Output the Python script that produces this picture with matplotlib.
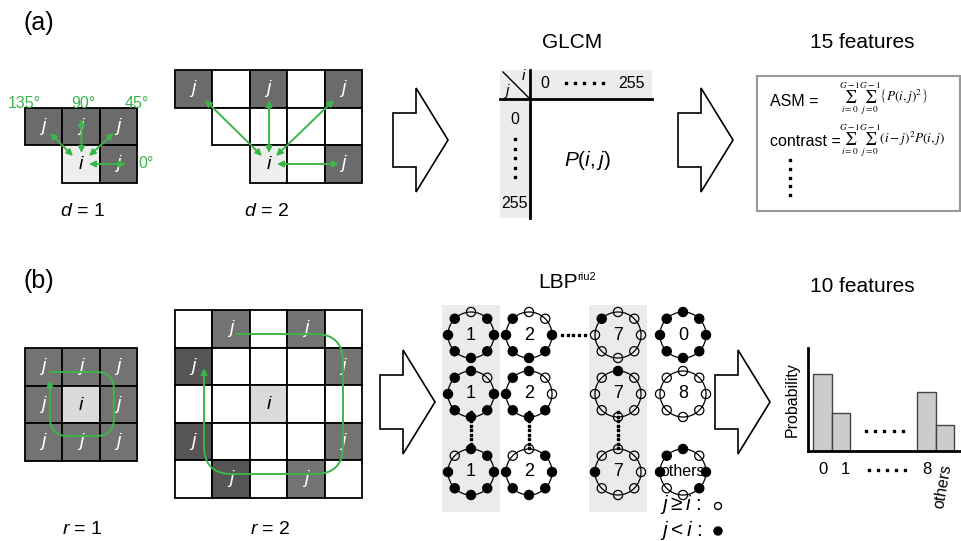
import numpy as np
import matplotlib
matplotlib.use('Agg')
import matplotlib.pyplot as plt
from matplotlib.patches import Rectangle, Polygon, Circle

plt.rcParams['font.family'] = ['Liberation Sans', 'DejaVu Sans']
plt.rcParams['mathtext.fontset'] = 'custom'
plt.rcParams['mathtext.rm'] = 'Liberation Sans'
plt.rcParams['mathtext.it'] = 'Liberation Sans:italic'

# ---------------- DATA ----------------
panel_labels = ['(a)', '(b)']
titles = ['GLCM', '15 features', '10 features']
angle_labels = ['135°', '90°', '45°', '0°']
distance_labels = ['$d$ = 1', '$d$ = 2']
radius_labels = ['$r$ = 1', '$r$ = 2']
glcm_labels = ['0', '255']
glcm_cell = '$P(i,j)$'
feature_names = ['ASM =', 'contrast =']
feature_formulas = [r'$\sum_{i=0}^{G-1}\sum_{j=0}^{G-1}\left\{P(i,j)^2\right\}$',
                    r'$\sum_{i=0}^{G-1}\sum_{j=0}^{G-1}(i-j)^2P(i,j)$']
# cell codes: 0 none, 1 white, 2 grey j, 3 centre i, 4 dark j
d1_cells = [[2, 2, 2], [0, 3, 2]]
d2_cells = [[2, 1, 2, 1, 2], [0, 1, 1, 1, 1], [0, 0, 3, 1, 2]]
r1_cells = [[2, 2, 2], [2, 3, 2], [2, 2, 2]]
r2_cells = [[1, 2, 1, 2, 1], [4, 1, 1, 1, 2], [1, 1, 3, 1, 1], [4, 1, 1, 1, 2], [1, 4, 1, 2, 1]]
lbp_codes = [['1', '2', '7', '0'], ['1', '2', '7', '8'], ['1', '2', '7', 'others']]
# neighbours: top, top-right, right, bottom-right, bottom, bottom-left, left, top-left; 1 = j < i (filled)
lbp_patterns = [
    [[0, 1, 1, 1, 1, 1, 1, 1], [0, 0, 1, 1, 1, 1, 1, 1], [0, 0, 0, 0, 0, 0, 0, 1], [1, 1, 1, 1, 1, 1, 1, 1]],
    [[1, 0, 1, 1, 1, 1, 1, 1], [1, 0, 0, 1, 1, 1, 1, 1], [1, 0, 0, 0, 0, 0, 0, 0], [0, 0, 0, 0, 0, 0, 0, 0]],
    [[1, 1, 1, 1, 1, 1, 1, 0], [0, 1, 1, 1, 1, 1, 1, 0], [0, 0, 0, 0, 0, 0, 1, 0], [1, 0, 1, 1, 0, 0, 1, 1]],
]
hist_labels = ['0', '1', '8', 'others']
hist_values = [0.75, 0.37, 0.57, 0.25]
# --------------------------------------

W, H = 962, 541
fig = plt.figure(figsize=(W / 100, H / 100), dpi=100)
ax = fig.add_axes([0, 0, 1, 1])
ax.set_xlim(0, W)
ax.set_ylim(H, 0)
ax.axis('off')

GREEN = '#3db54a'
cell_colors = {1: 'white', 2: '#6b6b6b', 3: '#eeeeee', 4: '#565656'}
cell_colors_b = {1: 'white', 2: '#737373', 3: '#dadada', 4: '#555555'}


def draw_grid(x0, y0, cells, size, colors):
    for r, row in enumerate(cells):
        for c, v in enumerate(row):
            if v == 0:
                continue
            x, y = x0 + c * size, y0 + r * size
            ax.add_patch(Rectangle((x, y), size, size, facecolor=colors[v],
                                   edgecolor='black', lw=1.3, zorder=1))
            if v in (2, 4):
                ax.text(x + size / 2, y + size / 2, 'j', color='white', style='italic',
                        fontsize=14, ha='center', va='center', zorder=2)
            elif v == 3:
                ax.text(x + size / 2, y + size / 2 + 1, 'i', color='black', style='italic',
                        fontsize=14, ha='center', va='center', zorder=2)


def block_arrow(x0, xh, xt, yc, hs=27, hh=52):
    pts = [(x0, yc - hs), (xh, yc - hs), (xh, yc - hh), (xt, yc), (xh, yc + hh),
           (xh, yc + hs), (x0, yc + hs)]
    ax.add_patch(Polygon(pts, closed=True, facecolor='white', edgecolor='black', lw=1.2))


def garrow(p0, p1, style='<|-|>'):
    ax.annotate('', xy=p1, xytext=p0,
                arrowprops=dict(arrowstyle=style, color=GREEN, lw=1.4,
                                mutation_scale=9, shrinkA=0, shrinkB=0), zorder=5)


def rounded_poly(pts, rad, n=12):
    out = [pts[0]]
    for k in range(1, len(pts) - 1):
        p0, p1, p2 = map(np.array, (pts[k - 1], pts[k], pts[k + 1]))
        d0 = (p1 - p0) / np.linalg.norm(p1 - p0)
        d1 = (p2 - p1) / np.linalg.norm(p2 - p1)
        a = p1 - d0 * rad
        b = p1 + d1 * rad
        for tt in np.linspace(0, 1, n):
            q = (1 - tt) ** 2 * a + 2 * (1 - tt) * tt * p1 + tt ** 2 * b
            out.append(tuple(q))
    out.append(pts[-1])
    return np.array(out)


# ---------- panel (a) ----------
ax.text(39, 23, panel_labels[0], fontsize=18, ha='center', va='center')
S = 37.5
draw_grid(25, 107.5, d1_cells, S, cell_colors)
draw_grid(175, 70, d2_cells, S, cell_colors)

garrow((73, 156), (50, 133))
garrow((81.5, 153), (81.5, 119))
garrow((89, 156), (114, 133))
garrow((89, 164), (126, 164))
ax.text(24, 104, angle_labels[0], color=GREEN, fontsize=11.5, ha='center', va='center')
ax.text(83, 104, angle_labels[1], color=GREEN, fontsize=11.5, ha='center', va='center')
ax.text(137, 104, angle_labels[2], color=GREEN, fontsize=11.5, ha='center', va='center')
ax.text(146, 163, angle_labels[3], color=GREEN, fontsize=11.5, ha='center', va='center')

garrow((262, 156), (205, 100))
garrow((269, 153), (269, 100))
garrow((276, 156), (334, 100))
garrow((277, 164), (339, 164))

ax.text(82, 211, distance_labels[0], fontsize=14, ha='center', va='center')
ax.text(266, 211, distance_labels[1], fontsize=14, ha='center', va='center')

block_arrow(393, 416, 448, 140)
block_arrow(678, 701, 733, 140)

# GLCM
ax.text(572, 42, titles[0], fontsize=15, ha='center', va='center')
ax.add_patch(Rectangle((500, 70), 152, 29, facecolor='#ececec', edgecolor='none'))
ax.add_patch(Rectangle((500, 99), 30, 119, facecolor='#ececec', edgecolor='none'))
ax.plot([500, 652], [99, 99], color='black', lw=2)
ax.plot([530, 530], [70, 218], color='black', lw=2)
ax.plot([503, 530], [72, 99], color='black', lw=1)
ax.text(523, 76, 'i', style='italic', fontsize=11, ha='center', va='center')
ax.text(507, 91, 'j', style='italic', fontsize=11, ha='center', va='center')
ax.text(545, 83, glcm_labels[0], fontsize=11.5, ha='center', va='center')
ax.text(632, 83, glcm_labels[1], fontsize=11.5, ha='center', va='center')
ax.scatter(np.linspace(566, 603, 5), [83] * 5, s=2, color='black', marker='s')
ax.text(515, 120, glcm_labels[0], fontsize=11.5, ha='center', va='center')
ax.text(515, 204, glcm_labels[1], fontsize=11.5, ha='center', va='center')
ax.scatter([515] * 5, np.linspace(139, 177, 5), s=2, color='black', marker='s')
ax.text(588, 160, glcm_cell, fontsize=15, ha='center', va='center')

# 15 features
ax.text(862, 42, titles[1], fontsize=15, ha='center', va='center')
ax.add_patch(Rectangle((757, 76), 203, 135, facecolor='none', edgecolor='#999999', lw=1.5))
ax.text(770, 101, feature_names[0], fontsize=11.5, ha='left', va='center')
ax.text(839, 99, feature_formulas[0], fontsize=9.5, ha='left', va='center', math_fontfamily='stix')
ax.text(770, 141, feature_names[1], fontsize=11.5, ha='left', va='center')
ax.text(839, 141, feature_formulas[1], fontsize=9.5, ha='left', va='center', math_fontfamily='stix')
ax.scatter([790] * 5, np.linspace(160, 195, 5), s=2.5, color='black', marker='s')

# ---------- panel (b) ----------
ax.text(39, 281, panel_labels[1], fontsize=18, ha='center', va='center')
draw_grid(25, 348, r1_cells, S, cell_colors_b)
draw_grid(175, 310, r2_cells, S, cell_colors_b)

p1 = rounded_poly([(50, 372), (114, 372), (114, 436), (50, 436), (50, 392)], 18)
ax.plot(p1[:, 0], p1[:, 1], color=GREEN, lw=1.4, zorder=5)
garrow((50, 393), (50, 380), style='-|>')
p2 = rounded_poly([(237, 334), (343, 334), (343, 474), (204, 474), (204, 380)], 28)
ax.plot(p2[:, 0], p2[:, 1], color=GREEN, lw=1.4, zorder=5)
garrow((204, 381), (204, 368), style='-|>')

ax.text(82, 530, radius_labels[0], fontsize=14, ha='center', va='center')
ax.text(270, 530, radius_labels[1], fontsize=14, ha='center', va='center')

block_arrow(380, 403, 435, 402)
block_arrow(715, 738, 770, 402)

# LBP
ax.text(558, 283, 'LBP', fontsize=15, ha='center', va='center')
ax.text(577, 277, 'riu2', fontsize=8, ha='left', va='center')
ax.add_patch(Rectangle((442, 305), 58, 207, facecolor='#ebebeb', edgecolor='none'))
ax.add_patch(Rectangle((589, 305), 58, 207, facecolor='#ebebeb', edgecolor='none'))
col_x = [471, 529, 618, 683]
row_y = [335, 394, 472]
R, rd = 23, 4.6
angles = np.deg2rad([90, 45, 0, -45, -90, -135, 180, 135])
for ri, yc in enumerate(row_y):
    for cj, xc in enumerate(col_x):
        ax.add_patch(Circle((xc, yc), R, facecolor='none', edgecolor='black', lw=0.9, zorder=3))
        for k, a in enumerate(angles):
            px, py = xc + R * np.cos(a), yc - R * np.sin(a)
            filled = lbp_patterns[ri][cj][k] == 1
            ax.add_patch(Circle((px, py), rd, facecolor='black' if filled else 'none',
                                edgecolor='black', lw=0.9, zorder=4))
        code = lbp_codes[ri][cj]
        ax.text(xc, yc, code, fontsize=13 if len(code) == 1 else 11.5,
                ha='center', va='center', zorder=6)
ax.scatter(np.linspace(562, 585, 5), [335] * 5, s=2, color='black', marker='s')
for xc in col_x[:3]:
    ax.scatter([xc] * 9, np.linspace(412, 448, 9), s=2, color='black', marker='s')

ax.text(660, 505, r'$j \geq i$ :', fontsize=15, ha='left', va='center')
ax.text(660, 530, r'$j < i$ :', fontsize=15, ha='left', va='center')
ax.add_patch(Circle((718, 506), 3.5, facecolor='none', edgecolor='black', lw=1))
ax.add_patch(Circle((718, 531), 4, facecolor='black', edgecolor='black', lw=1))

# 10 features histogram
ax.text(862, 287, titles[2], fontsize=15, ha='center', va='center')
bx0, bx1, by0, by1 = 808, 962, 348, 451
hax = fig.add_axes([bx0 / W, 1 - by1 / H, (bx1 - bx0) / W, (by1 - by0) / H])
bar_pos = [0, 1, 5.62, 6.62]
hax.bar(bar_pos, hist_values, width=1.0, color='#cccccc', edgecolor='#444444', lw=1)
hax.set_xlim(-0.78, 7.54)
hax.set_ylim(0, 1.0)
for s in ['top', 'right']:
    hax.spines[s].set_visible(False)
for s in ['left', 'bottom']:
    hax.spines[s].set_linewidth(2)
hax.set_xticks([])
hax.set_yticks([])
hax.patch.set_alpha(0)
hax.scatter(np.linspace(2.35, 4.35, 5), [0.19] * 5, s=2.5, color='black', marker='s', clip_on=False)

ax.text(792, 400, 'Probability', fontsize=11.5, rotation=90, ha='center', va='center')
ax.text(823, 469, hist_labels[0], fontsize=12, ha='center', va='center')
ax.text(845, 469, hist_labels[1], fontsize=12, ha='center', va='center')
ax.scatter(np.linspace(869, 905, 5), [470] * 5, s=2.5, color='black', marker='s')
ax.text(927, 469, hist_labels[2], fontsize=12, ha='center', va='center')
ax.text(943, 486, hist_labels[3], fontsize=11.5, rotation=80, ha='center', va='center')

fig.savefig('out.png', dpi=100)
